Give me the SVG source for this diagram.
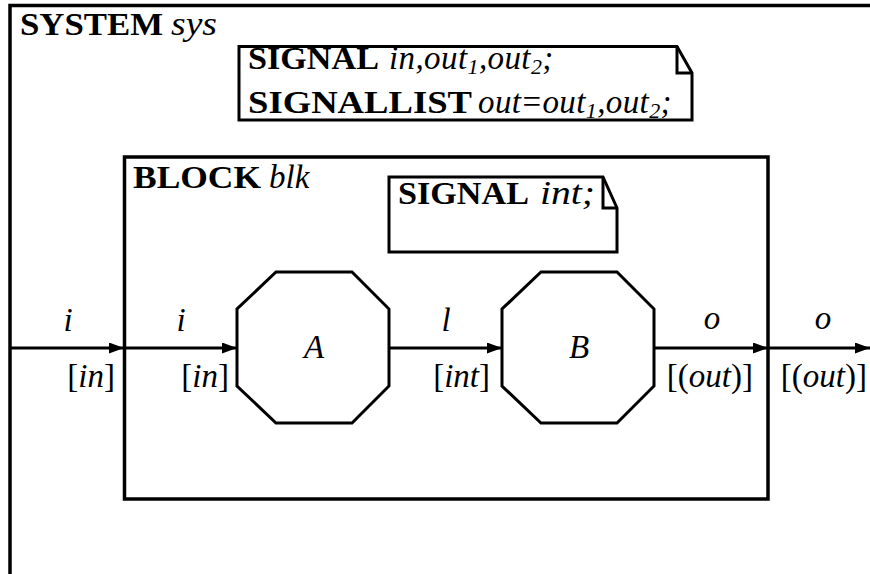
<svg xmlns="http://www.w3.org/2000/svg" width="870" height="574" viewBox="0 0 870 574">
  <style>
    .frame { fill: none; stroke: #000; stroke-width: 3.5; }
    .shape { fill: #fff; stroke: #000; stroke-width: 3; stroke-linejoin: miter; }
    .fold { fill: none; stroke: #000; stroke-width: 3; }
    .wire { fill: none; stroke: #000; stroke-width: 3; marker-end: url(#head); }
    text { font-family: "Liberation Serif", "DejaVu Serif", serif; font-size: 31px; fill: #000; }
    .bf { font-weight: bold; }
    .it { font-style: italic; font-size: 33px; }
    .up { font-style: normal; }
    .sub { font-size: 22px; }
    .mid { text-anchor: middle; }
    .end { text-anchor: end; }
  </style>
  <defs>
    <marker id="head" markerUnits="userSpaceOnUse" markerWidth="15" markerHeight="11" refX="15" refY="5.5" orient="auto">
      <path d="M0,0 L15,5.5 L0,11 Z" fill="#000"/>
    </marker>
  </defs>

  <rect width="870" height="574" fill="#fff"/>

  <!-- system frame (open to the right and bottom) -->
  <g id="system">
    <path class="frame" d="M10,574 V5.5 H870"/>
    <text x="20" y="35" class="bf" textLength="143" lengthAdjust="spacingAndGlyphs">SYSTEM</text>
    <text x="171" y="35" class="it" textLength="46" lengthAdjust="spacingAndGlyphs">sys</text>
  </g>

  <!-- system signal declarations -->
  <g id="sys-decl">
    <path class="shape" d="M239,46.5 H677 L692,73 V120 H239 Z"/>
    <path class="fold" d="M677,46.5 V73 H692"/>
    <text x="248" y="69" class="bf" textLength="131" lengthAdjust="spacingAndGlyphs">SIGNAL</text>
    <text x="389" y="69" class="it" letter-spacing="0.4">in,out<tspan dy="5" class="sub">1</tspan><tspan dy="-5">,out</tspan><tspan dy="5" class="sub">2</tspan><tspan dy="-5">;</tspan></text>
    <text x="248" y="113" class="bf" textLength="224" lengthAdjust="spacingAndGlyphs">SIGNALLIST</text>
    <text x="478" y="113" class="it" letter-spacing="0.4">out<tspan class="up" dx="1">=</tspan><tspan dx="1">out</tspan><tspan dy="5" class="sub">1</tspan><tspan dy="-5">,out</tspan><tspan dy="5" class="sub">2</tspan><tspan dy="-5">;</tspan></text>
  </g>

  <!-- block frame -->
  <g id="blk">
    <rect class="frame" x="124.5" y="157" width="643.5" height="342"/>
    <text x="133" y="188" class="bf" textLength="128" lengthAdjust="spacingAndGlyphs">BLOCK</text>
    <text x="269" y="188" class="it">blk</text>
  </g>

  <!-- block signal declaration -->
  <g id="blk-decl">
    <path class="shape" d="M389,177 H603 L617,208 V252 H389 Z"/>
    <path class="fold" d="M603,177 V208 H617"/>
    <text x="398" y="204" class="bf" textLength="131" lengthAdjust="spacingAndGlyphs">SIGNAL</text>
    <text x="540" y="204" class="it" textLength="55" lengthAdjust="spacingAndGlyphs">int;</text>
  </g>

  <!-- processes -->
  <g id="proc-A">
    <polygon class="shape" points="276,272 352,272 389,309 389,386 352,423 276,423 237,386 237,309"/>
    <text x="314" y="358" class="it mid">A</text>
  </g>
  <g id="proc-B">
    <polygon class="shape" points="541,272 617,272 654,309 654,386 617,423 541,423 502,386 502,309"/>
    <text x="579" y="358" class="it mid">B</text>
  </g>

  <!-- signal routes and channels -->
  <g id="connectors">
    <line class="wire" x1="10" y1="348" x2="124" y2="348"/>
    <line class="wire" x1="124" y1="348" x2="237" y2="348"/>
    <line class="wire" x1="389" y1="348" x2="502" y2="348"/>
    <line class="wire" x1="654" y1="348" x2="768" y2="348"/>
    <line class="wire" x1="768" y1="348" x2="870" y2="348"/>

    <text x="68" y="331" class="it mid">i</text>
    <text x="115" y="387" class="it end"><tspan class="up">[</tspan>in<tspan class="up">]</tspan></text>
    <text x="181" y="331" class="it mid">i</text>
    <text x="229" y="387" class="it end"><tspan class="up">[</tspan>in<tspan class="up">]</tspan></text>
    <text x="446" y="331" class="it mid">l</text>
    <text x="490" y="387" class="it end"><tspan class="up">[</tspan>int<tspan class="up">]</tspan></text>
    <text x="712" y="329" class="it mid">o</text>
    <text x="753" y="387" class="it end"><tspan class="up">[(</tspan>out<tspan class="up">)]</tspan></text>
    <text x="823" y="329" class="it mid">o</text>
    <text x="867" y="387" class="it end"><tspan class="up">[(</tspan>out<tspan class="up">)]</tspan></text>
  </g>
</svg>
